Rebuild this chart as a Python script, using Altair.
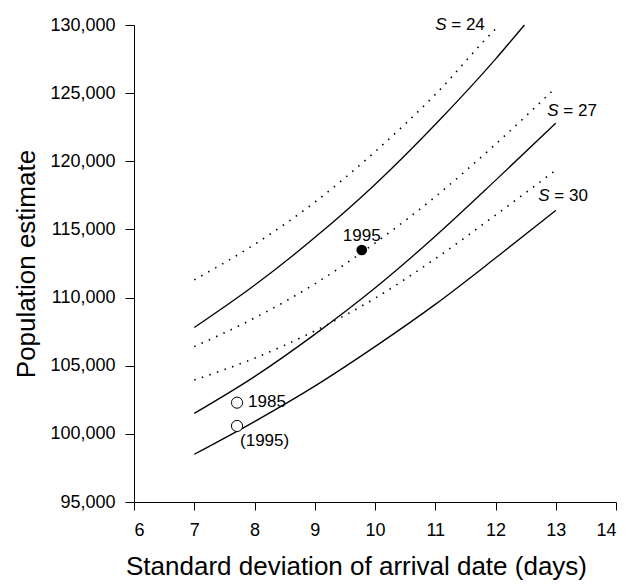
import altair as alt
import pandas as pd

# ---- data ----
s24_solid_x = [7, 8, 9, 10, 11, 12, 12.48]
s24_solid_y = [107800, 110900, 114400, 118300, 122700, 127500, 130000]
s24_dot_x = [7, 8, 9, 10, 11, 12, 12.07]
s24_dot_y = [111300, 113900, 117000, 120700, 124900, 129700, 130000]

s27_solid_x = [7, 8, 9, 10, 11, 12, 13]
s27_solid_y = [101500, 104200, 107300, 110700, 114500, 118600, 122800]
s27_dot_x = [7, 8, 9, 10, 11, 12, 13]
s27_dot_y = [106400, 108500, 111000, 114000, 117400, 121250, 125400]

s30_solid_x = [7, 8, 9, 10, 11, 12, 13]
s30_solid_y = [98500, 100900, 103500, 106400, 109500, 112900, 116400]
s30_dot_x = [7, 8, 9, 10, 11, 12, 13]
s30_dot_y = [103950, 105550, 107550, 109950, 112850, 116050, 119350]

obs_x = [9.78, 7.71, 7.71]
obs_y = [113490, 102290, 100580]
obs_label = ["1995", "1985", "(1995)"]

s_label_text = ["= 24", "= 27", "= 30"]
s_label_x = [11.0, 12.86, 12.71]
s_label_y = [130000, 123700, 117450]

x_ticks = [6, 7, 8, 9, 10, 11, 12, 13, 14]
y_ticks = [95000, 100000, 105000, 110000, 115000, 120000, 125000, 130000]

# ---- tables ----
rows = []
for name, xs, ys, style in [
    ("S24s", s24_solid_x, s24_solid_y, "solid"),
    ("S24d", s24_dot_x, s24_dot_y, "dot"),
    ("S27s", s27_solid_x, s27_solid_y, "solid"),
    ("S27d", s27_dot_x, s27_dot_y, "dot"),
    ("S30s", s30_solid_x, s30_solid_y, "solid"),
    ("S30d", s30_dot_x, s30_dot_y, "dot"),
]:
    for xv, yv in zip(xs, ys):
        rows.append({"x": xv, "y": yv, "curve": name, "style": style})
curves = pd.DataFrame(rows)
obs = pd.DataFrame({"x": obs_x, "y": obs_y, "label": obs_label})
slab = pd.DataFrame({"x": s_label_x, "y": s_label_y, "t": s_label_text})

FONT = "Liberation Sans"

xscale = alt.Scale(domain=[6, 14], nice=False, zero=False)
yscale = alt.Scale(domain=[95000, 130000], nice=False, zero=False)

xenc = alt.X("x:Q", scale=xscale,
             axis=alt.Axis(values=x_ticks, title="Standard deviation of arrival date (days)",
                           format="d", titleY=64, titleX=222, titleAlign="center",
                           titleBaseline="middle", grid=False, labelPadding=11,
                           tickSize=8))
yenc = alt.Y("y:Q", scale=yscale,
             axis=alt.Axis(values=y_ticks, title="Population estimate", format=",d",
                           titleX=-108, titleBaseline="middle", grid=False,
                           labelPadding=10, tickSize=9))

base = alt.Chart(curves)
solid = base.transform_filter(alt.datum.style == "solid").mark_line(
    color="black", strokeWidth=1.3, interpolate="monotone"
).encode(x=xenc, y=yenc, detail="curve:N")
dotted = base.transform_filter(alt.datum.style == "dot").mark_line(
    color="black", strokeWidth=1.6, strokeDash=[1.5, 6.5], interpolate="monotone"
).encode(x="x:Q", y="y:Q", detail="curve:N")

ob = alt.Chart(obs)
filled_pt = ob.transform_filter(alt.datum.label == "1995").mark_point(
    shape="circle", filled=True, color="black", size=115, opacity=1
).encode(x="x:Q", y="y:Q")
open_pt = ob.transform_filter(alt.datum.label != "1995").mark_point(
    shape="circle", filled=False, stroke="black", fill="white", fillOpacity=1,
    strokeWidth=1, size=125, opacity=1
).encode(x="x:Q", y="y:Q")

lab1 = ob.transform_filter(alt.datum.label == "1995").mark_text(
    font=FONT, fontSize=17, align="center", baseline="middle", dy=-14, color="black"
).encode(x="x:Q", y="y:Q", text="label:N")
lab2 = ob.transform_filter(alt.datum.label == "1985").mark_text(
    font=FONT, fontSize=17, align="left", baseline="middle", dx=11, dy=-1, color="black"
).encode(x="x:Q", y="y:Q", text="label:N")
lab3 = ob.transform_filter(alt.datum.label == "(1995)").mark_text(
    font=FONT, fontSize=17, align="left", baseline="middle", dx=3, dy=15, color="black"
).encode(x="x:Q", y="y:Q", text="label:N")

sl = alt.Chart(slab)
s_italic = sl.mark_text(
    font=FONT, fontSize=17, fontStyle="italic", align="left", baseline="middle", color="black",
    text="S"
).encode(x="x:Q", y="y:Q")
s_rest = sl.mark_text(
    font=FONT, fontSize=17, align="left", baseline="middle", dx=16, color="black"
).encode(x="x:Q", y="y:Q", text="t:N")

chart = alt.layer(
    solid, dotted, filled_pt, open_pt, lab1, lab2, lab3, s_italic, s_rest
).properties(
    width=482, height=477,
    autosize=alt.AutoSizeParams(type="none"),
    padding={"left": 126, "top": 17, "right": 6, "bottom": 78},
    background="white",
).configure_view(stroke=None).configure_axis(
    labelFont=FONT, titleFont=FONT, labelFontSize=18, titleFontSize=26,
    titleFontWeight="normal", labelColor="black", titleColor="black",
    domainColor="black", tickColor="black", domainWidth=1, tickWidth=1,
    grid=False
)

chart.save("out.html", embed_options={"renderer": "svg", "actions": False})
